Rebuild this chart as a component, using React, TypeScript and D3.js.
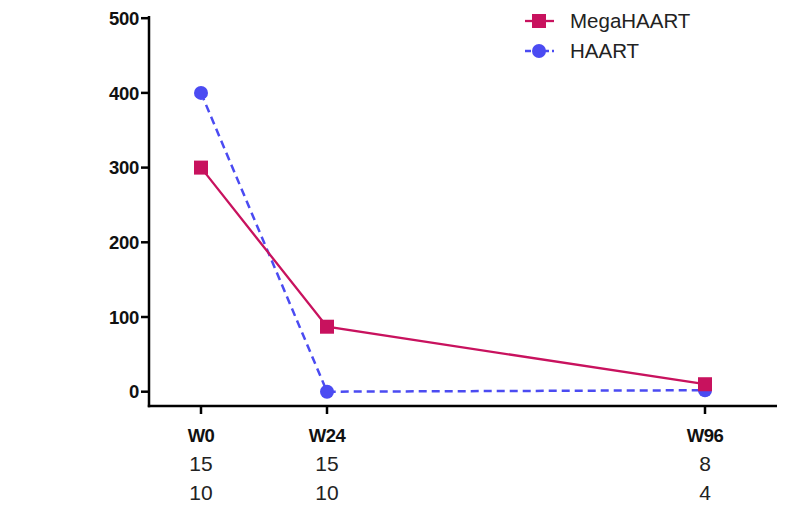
import * as d3 from "d3";

// weeks on the x axis
const weeks = [0, 24, 96];
const weekLabels = ["W0", "W24", "W96"];
// numbers at risk under each week
const megaN = [15, 15, 8];
const haartN = [10, 10, 4];
// series values
const megaHaart = [300, 87, 10];
const haart = [400, 0, 2];
const yTicks = [0, 100, 200, 300, 400, 500];

const MEGA = "#c8125e";
const BLUE = "#4b4bf2";
const FONT = "'Liberation Sans', Arial, Helvetica, sans-serif";

export default function App() {
  const width = 794;
  const height = 511;
  const axisX = 149;
  const axisY = 406;

  const x = d3.scaleLinear().domain([0, 96]).range([201, 705]);
  const y = d3.scaleLinear().domain([0, 500]).range([391.7, 18.2]);

  const line = d3
    .line<number>()
    .x((_, i) => x(weeks[i]))
    .y((d) => y(d));

  return (
    <svg
      width={width}
      height={height}
      style={{ position: "absolute", left: 0, top: 0, background: "#fff" }}
      fontFamily={FONT}
    >
      {/* y axis */}
      <line x1={axisX} x2={axisX} y1={16} y2={axisY + 1.2} stroke="#000" strokeWidth={2.5} />
      {yTicks.map((t) => (
        <g key={t}>
          <line x1={141} x2={axisX} y1={y(t)} y2={y(t)} stroke="#000" strokeWidth={2.5} />
          <text
            x={139}
            y={y(t)}
            dy="0.36em"
            textAnchor="end"
            fontSize={18.5}
            fontWeight="bold"
            fill="#111"
            letterSpacing={-0.3}
          >
            {t}
          </text>
        </g>
      ))}

      {/* x axis */}
      <line x1={axisX - 1.2} x2={777} y1={axisY} y2={axisY} stroke="#000" strokeWidth={2.5} />
      {weeks.map((w, i) => (
        <g key={w}>
          <line x1={x(w)} x2={x(w)} y1={axisY} y2={axisY + 8} stroke="#000" strokeWidth={2.5} />
          <text
            x={x(w)}
            y={435}
            dy="0.36em"
            textAnchor="middle"
            fontSize={18.5}
            fontWeight="bold"
            fill="#111"
            letterSpacing={-0.5}
          >
            {weekLabels[i]}
          </text>
          <text x={x(w)} y={463} dy="0.36em" textAnchor="middle" fontSize={21} fill="#222">
            {megaN[i]}
          </text>
          <text x={x(w)} y={492} dy="0.36em" textAnchor="middle" fontSize={21} fill="#222">
            {haartN[i]}
          </text>
        </g>
      ))}

      {/* HAART series */}
      <path d={line(haart)!} fill="none" stroke={BLUE} strokeWidth={2.5} strokeDasharray="8,5" />
      {haart.map((v, i) => (
        <circle key={i} cx={x(weeks[i])} cy={y(v)} r={7} fill={BLUE} />
      ))}

      {/* MegaHAART series */}
      <path d={line(megaHaart)!} fill="none" stroke={MEGA} strokeWidth={2.3} />
      {megaHaart.map((v, i) => (
        <rect key={i} x={x(weeks[i]) - 7} y={y(v) - 7} width={14} height={14} fill={MEGA} />
      ))}

      {/* legend */}
      <g>
        <line x1={525} x2={554} y1={21} y2={21} stroke={MEGA} strokeWidth={2.3} />
        <rect x={532} y={14} width={14} height={14} fill={MEGA} />
        <text x={570} y={21} dy="0.36em" fontSize={20.5} fill="#222">
          MegaHAART
        </text>
        <line x1={525} x2={554} y1={51} y2={51} stroke={BLUE} strokeWidth={2.5} strokeDasharray="6,3" />
        <circle cx={539} cy={51} r={7} fill={BLUE} />
        <text x={570} y={51} dy="0.36em" fontSize={20.5} fill="#222">
          HAART
        </text>
      </g>
    </svg>
  );
}
